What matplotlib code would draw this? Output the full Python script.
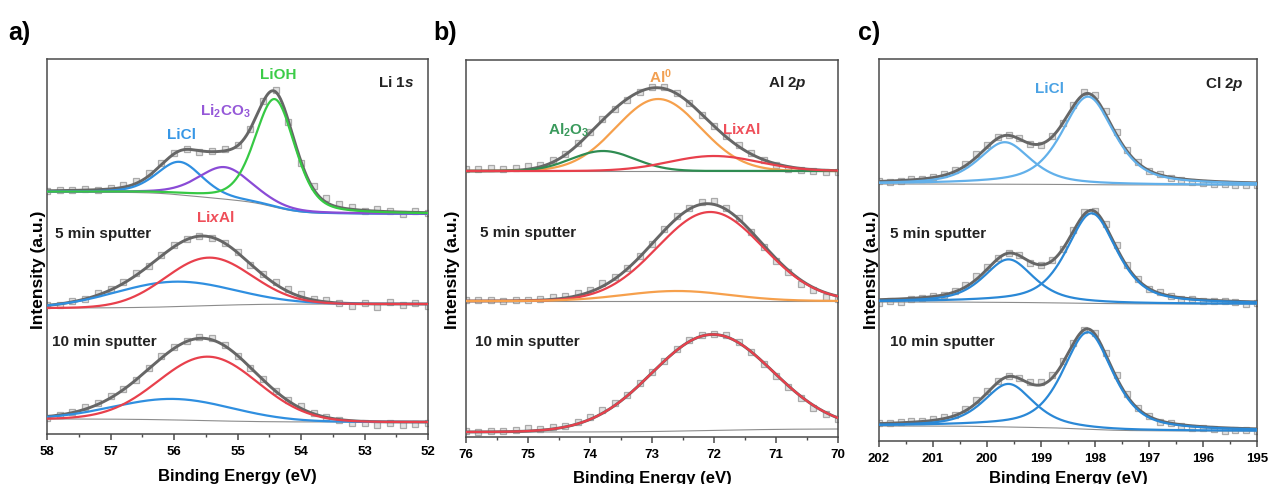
"""
XPS core-level spectra (Li 1s, Al 2p, Cl 2p) of the Li-Al surface before and after Ar+ sputtering.
Each spectrum: measured points, Shirley background, fitted components and their sum.
"""
import numpy as np
import matplotlib
matplotlib.use("Agg")
import matplotlib.pyplot as plt
from matplotlib.ticker import MultipleLocator

plt.rcParams["font.family"] = ["Liberation Sans", "DejaVu Sans"]
plt.rcParams["font.weight"] = "bold"
plt.rcParams["axes.labelweight"] = "bold"
plt.rcParams["mathtext.fontset"] = "custom"
plt.rcParams["mathtext.rm"] = "Liberation Sans:bold"
plt.rcParams["mathtext.it"] = "Liberation Sans:bold:italic"

ENV = "#666666"; BGC = "#8c8c8c"; SPINE = "#4a4a4a"
BLUE = "#2f8fe0"; PURPLE = "#8a4bd6"; GREEN = "#36c944"; RED = "#e8404c"
ORANGE = "#f6a04c"; DKGREEN = "#2f8c52"; LBLUE = "#62b0ea"; CLBLUE = "#2a88d6"

# fitted components: (centre eV, height a.u., fwhm eV); background = (high-BE end, low-BE end)
# residuals = measured - fit, on a 0.2 eV grid from the high-BE end
li_range = (58, 52)
li_fit0 = [(55.91, 33, 0.85), (55.20, 32, 1.0), (54.41, 108, 0.75)]   # LiCl, Li2CO3, LiOH
li_bg0 = (242, 220)
li_res0 = [0, 1, 0, 1, 0, 1, 2, 2, 3, 2, 1, 0, -1, 1, 2, 1, 0, 1, 2, -1,
           -2, 3, 4, 3, 2, -1, 2, 1, -2, 1, 0]
li_fit5 = [(56.0, 25, 2.2), (55.46, 48, 1.6)]                           # LiCl, LixAl
li_bg5 = (126, 130)
li_res5 = [0, -1, 1, 0, 2, 1, 1, 2, 0, 1, 2, 1, 0, -1, 0, 1, -1, 1, 2, 3,
           3, 1, 2, 0, -2, 1, -3, 2, -1, 1, -2]
li_fit10 = [(56.0, 21, 2.2), (55.46, 64, 1.85)]
li_bg10 = (15, 12)
li_res10 = [-1, 0, 1, 2, 1, 2, 1, 0, 1, 2, 1, 0, 1, 2, 1, 0, -1, 1, 0, 1,
            2, 1, 0, -1, -2, -2, -3, -1, -3, -2, -1]
li_eta = [0.35, 0.0, 0.0]

al_range = (76, 70)
al_fit0 = [(72.90, 72, 1.6), (73.79, 20, 1.2), (72.00, 15, 1.7)]       # Al0, Al2O3, LixAl
al_bg0 = (266, 266)
al_res0 = [2, 2, 3, 2, 2, 3, 2, 2, 1, 2, 1, 1, 0, -1, 0, 1, 2, 1, 0, -1,
           0, 1, 2, 1, 0, -1, -2, -2, -1, -2, -1]
al_fit5 = [(72.06, 89, 2.0), (72.60, 10, 2.0)]                          # LixAl, Al0
al_bg5 = (136, 136)
al_res5 = [1, 1, 1, 0, 1, 1, 1, 2, 2, 3, 2, 3, 2, 1, 1, 0, 1, 2, 1, 2,
           3, 2, 1, 0, -2, -3, -2, -4, -3, -4, -3]
al_fit10 = [(72.03, 96, 2.3)]                                            # LixAl
al_bg10 = (5, 8)
al_res10 = [1, 0, 1, 1, 2, 3, 1, 2, 1, 2, 2, 3, 2, 1, 2, 1, 0, 1, 2, 1,
            0, 2, 1, 0, -1, -2, -1, -2, -3, -2, -1]
al_eta = [0.0, 0.0, 0.0]

cl_range = (202, 195)
cl_fit0 = [(199.67, 42, 1.15), (198.13, 88, 1.15)]                      # LiCl 2p1/2, 2p3/2
cl_bg0 = (257, 256)
cl_res0 = [0, -1, 0, 1, 0, 1, 1, 2, 2, 3, 2, 1, 0, 1, 0, -1, 1, 0, 1, 2,
           3, 4, 3, 2, 1, 0, 1, -1, -1, -2, -2, -3, -2, -3, -2, -2]
cl_fit5 = [(199.60, 43, 1.1), (198.06, 90, 1.1)]
cl_bg5 = (139, 137)
cl_res5 = [-3, -2, -3, -1, 0, 1, 0, 1, 2, 3, 2, 1, 0, 1, -1, 0, 1, 0, 1, 2,
           1, 2, 3, 2, 1, 0, 1, 0, -1, 0, -1, -1, 0, -1, -2, -1]
cl_fit10 = [(199.60, 43, 1.1), (198.13, 97, 1.1)]
cl_bg10 = (15, 10)
cl_res10 = [1, 0, 1, 1, 0, 1, 2, 1, 2, 3, 2, 1, 0, 1, 2, 3, 3, 2, 1, 0,
            1, 2, 3, 2, 1, 0, -1, 0, -1, -2, -1, -2, -3, -2, -1, -2]
cl_eta = [0.6, 0.6, 0.6]


def pseudo_voigt(e, c, h, w, eta):
    g = np.exp(-4 * np.log(2) * ((e - c) / w) ** 2)
    l = 1 / (1 + 4 * ((e - c) / w) ** 2)
    return h * (eta * l + (1 - eta) * g)


def shirley(signal, bg):
    hi_end, lo_end = bg
    acc = np.cumsum(signal)
    return lo_end + (hi_end - lo_end) * acc / acc[-1]


def spectrum(ax, erange, fit, bg, res, eta, colors):
    hi, lo = erange
    e = np.linspace(lo, hi, 900)
    comps = [pseudo_voigt(e, c, h, w, eta) for c, h, w in fit]
    total = np.sum(comps, axis=0)
    base = shirley(total, bg)
    ex = np.linspace(hi, lo, len(res))
    meas = np.interp(ex, e, base + total) + np.array(res)
    ax.plot(ex, meas, ls="none", marker="s", ms=3.8, mfc="#e2e2e2", mec="#aaaaaa",
            mew=0.9, zorder=1)
    ax.plot(e, base, color=BGC, lw=0.8, zorder=2)
    ax.plot(e, base + total, color=ENV, lw=2.1, zorder=3)
    for comp, col in zip(comps, colors):
        ax.plot(e, base + comp, color=col, lw=1.6, zorder=4)


def frame(ax, erange, ytop, ylab_xy, pad):
    ax.set_xlim(*erange)
    ax.set_ylim(0, ytop)
    ax.set_xticks(np.arange(min(erange), max(erange) + 1, 1))
    ax.xaxis.set_minor_locator(MultipleLocator(0.5))
    ax.set_yticks([])
    ax.tick_params(axis="x", which="major", direction="out", length=4, width=1.1,
                   labelsize=9.5, pad=4, color=SPINE)
    ax.tick_params(axis="x", which="minor", direction="out", length=2.5, width=1.0, color=SPINE)
    for s in ax.spines.values():
        s.set_color(SPINE); s.set_linewidth(1.1)
    ax.set_xlabel("Binding Energy (eV)", fontsize=12, labelpad=pad)
    ax.set_ylabel("Intensity (a.u.)", fontsize=12.5)
    ax.yaxis.set_label_coords(*ylab_xy)


def note(ax, x, y, s, color="#222222", ha="center"):
    ax.text(x, y, s, transform=ax.transAxes, ha=ha, va="center", fontsize=11, color=color)


fig = plt.figure(figsize=(12.69, 4.85), dpi=100)
ax_a = fig.add_axes([0.03704, 0.10309, 0.30024, 0.77320])
ax_b = fig.add_axes([0.36722, 0.09691, 0.29314, 0.77732])
ax_c = fig.add_axes([0.69267, 0.08866, 0.29787, 0.78763])

# a) Li 1s
spectrum(ax_a, li_range, li_fit0, li_bg0, li_res0, li_eta[0], [BLUE, PURPLE, GREEN])
spectrum(ax_a, li_range, li_fit5, li_bg5, li_res5, li_eta[1], [BLUE, RED])
spectrum(ax_a, li_range, li_fit10, li_bg10, li_res10, li_eta[2], [BLUE, RED])
frame(ax_a, li_range, 375, (-0.003, 0.44), 8)
note(ax_a, 0.606, 0.960, "LiOH", "#3ccc48")
note(ax_a, 0.467, 0.864, r"$\mathrm{Li_2CO_3}$", "#9558d8")
note(ax_a, 0.354, 0.800, "LiCl", "#3797e6")
note(ax_a, 0.916, 0.939, r"Li $\mathit{1s}$")
note(ax_a, 0.441, 0.579, r"Li$\mathit{x}$Al", "#ef4f5a")
note(ax_a, 0.021, 0.536, "5 min sputter", ha="left")
note(ax_a, 0.013, 0.248, "10 min sputter", ha="left")

# b) Al 2p
spectrum(ax_b, al_range, al_fit0, al_bg0, al_res0, al_eta[0], [ORANGE, DKGREEN, RED])
spectrum(ax_b, al_range, al_fit5, al_bg5, al_res5, al_eta[1], [RED, ORANGE])
spectrum(ax_b, al_range, al_fit10, al_bg10, al_res10, al_eta[2], [RED])
frame(ax_b, al_range, 377, (-0.016, 0.446), 7)
note(ax_b, 0.522, 0.958, r"$\mathrm{Al^0}$", "#f2a052")
note(ax_b, 0.277, 0.817, r"$\mathrm{Al_2O_3}$", "#3a9a5c")
note(ax_b, 0.739, 0.817, r"Li$\mathit{x}$Al", "#ef4f5a")
note(ax_b, 0.863, 0.942, r"Al $\mathit{2p}$")
note(ax_b, 0.038, 0.544, "5 min sputter", ha="left")
note(ax_b, 0.024, 0.255, "10 min sputter", ha="left")

# c) Cl 2p
spectrum(ax_c, cl_range, cl_fit0, cl_bg0, cl_res0, cl_eta[0], [LBLUE, LBLUE])
spectrum(ax_c, cl_range, cl_fit5, cl_bg5, cl_res5, cl_eta[1], [CLBLUE, CLBLUE])
spectrum(ax_c, cl_range, cl_fit10, cl_bg10, cl_res10, cl_eta[2], [CLBLUE, CLBLUE])
frame(ax_c, cl_range, 382, (0.0, 0.45), 4)
note(ax_c, 0.450, 0.924, "LiCl", "#4aa2e4")
note(ax_c, 0.915, 0.937, r"Cl $\mathit{2p}$")
note(ax_c, 0.029, 0.545, "5 min sputter", ha="left")
note(ax_c, 0.029, 0.262, "10 min sputter", ha="left")

for x, s in [(8, "a)"), (433, "b)"), (858, "c)")]:
    fig.text(x / 1269, 1 - 33 / 485, s, fontsize=18, ha="left", va="center")

fig.savefig("out.png", dpi=100, facecolor="white")
